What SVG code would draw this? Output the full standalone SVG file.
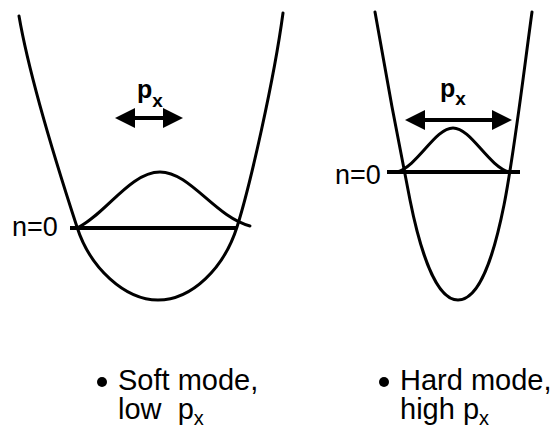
<svg xmlns="http://www.w3.org/2000/svg" width="554" height="438" viewBox="0 0 554 438">
<style>
.curve{fill:none;stroke:#000;stroke-width:3;stroke-linecap:round;stroke-linejoin:round}
.level{fill:none;stroke:#000;stroke-width:4}
.arr{stroke:#000;stroke-width:4;marker-start:url(#ah);marker-end:url(#ah)}
.lbl{font-family:"Liberation Sans",Arial,sans-serif;font-size:27px;fill:#000}
.p{font-family:"Liberation Sans",Arial,sans-serif;font-weight:bold;font-size:25px;fill:#000}
.sub{font-size:19px}
.cap{font-family:"Liberation Sans",Arial,sans-serif;font-size:29px;fill:#000;white-space:pre}
.capsub{font-size:20px}
</style>
<defs>
<marker id="ah" viewBox="0 0 20 20" refX="16" refY="10" markerWidth="20" markerHeight="20" markerUnits="userSpaceOnUse" orient="auto-start-reverse">
<path d="M0,0 L20,10 L0,20 z" fill="#000"/>
</marker>
</defs>
<g id="soft-mode">
<path class="curve" d="M19,16 C30,80 60,175 77,227 C90,268 125,300 158,300 C192,300 224,268 237,227 C250,186 274,80 283,13"/>
<path class="level" d="M70,228 L237,228"/>
<path class="curve" d="M77,228 C105,215 130,172 160,172 C190,172 215,217 250,226"/>
<text class="lbl" x="12" y="236">n=0</text>
<line class="arr" x1="119" y1="118" x2="179" y2="118"/>
<text class="p" x="137" y="98">p<tspan class="sub" dy="9">x</tspan></text>
</g>
<g id="hard-mode">
<path class="curve" d="M375,12 C385,70 400,150 410,200 C420,250 436,300 458,300 C480,300 494,255 504,205 C514,155 524,70 532,12"/>
<path class="level" d="M387,172 L520,172"/>
<path class="curve" d="M397,172 C418,166 435,128 453,128 C471,128 488,166 509,172"/>
<text class="lbl" x="335" y="184">n=0</text>
<line class="arr" x1="409" y1="120" x2="508" y2="120"/>
<text class="p" x="440" y="97">p<tspan class="sub" dy="8">x</tspan></text>
</g>
<g id="caption-soft">
<circle cx="102" cy="382" r="5" fill="#000"/>
<text class="cap" x="118" y="390">Soft mode,</text>
<text class="cap" x="118" y="419">low  p<tspan class="capsub" dy="6">x</tspan></text>
</g>
<g id="caption-hard">
<circle cx="384" cy="382" r="5" fill="#000"/>
<text class="cap" x="400" y="390">Hard mode,</text>
<text class="cap" x="400" y="419">high p<tspan class="capsub" dy="6">x</tspan></text>
</g>
</svg>
